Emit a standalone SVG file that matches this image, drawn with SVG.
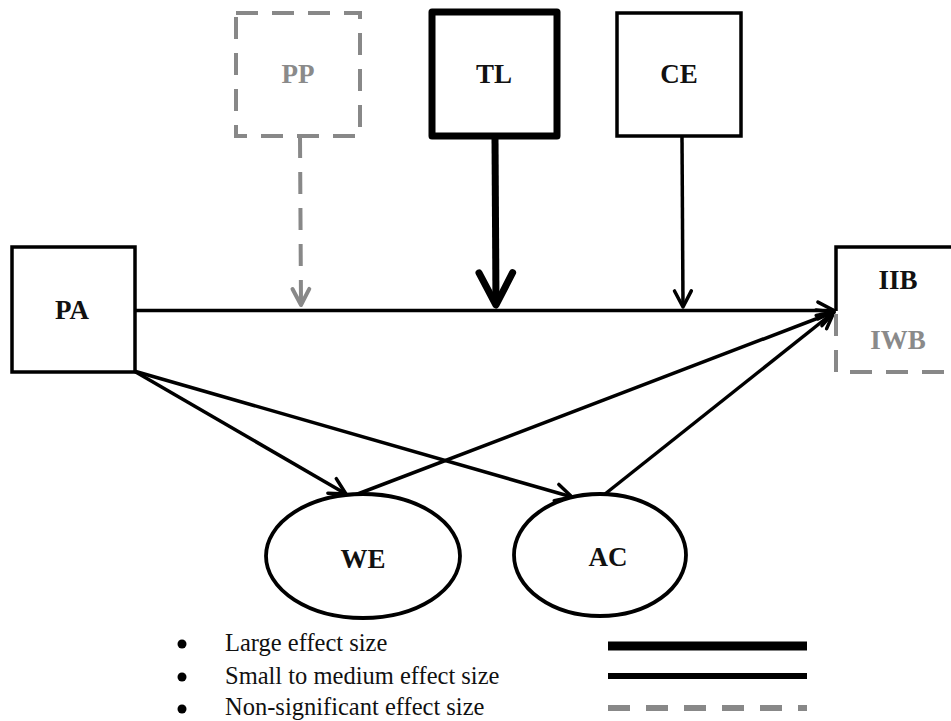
<svg xmlns="http://www.w3.org/2000/svg" width="951" height="721" viewBox="0 0 951 721">
<style>
.box{fill:#fff;stroke:#000;stroke-width:3.5}
.gbox{fill:none;stroke:#888;stroke-width:4;stroke-dasharray:22 14}
.lbl{font-family:"Liberation Serif","Times New Roman",serif;font-weight:bold;font-size:27px;text-anchor:middle;fill:#111}
.glbl{fill:#8a8a8a}
.leg{font-family:"Liberation Serif","Times New Roman",serif;font-size:24.5px;fill:#111}
.ln{fill:none;stroke:#000;stroke-width:3.5}
.gln{fill:none;stroke:#888;stroke-width:4;stroke-dasharray:22 14}
</style>
<defs>
<marker id="ah" viewBox="-6 -4 7 8" markerWidth="7" markerHeight="8" refX="0" refY="0" orient="auto" markerUnits="strokeWidth" overflow="visible">
<path d="M-4.6,-2.4 L0,0 L-4.6,2.4" fill="none" stroke="#000" stroke-width="1" stroke-linecap="round" stroke-linejoin="round"/>
</marker>
<marker id="gah" viewBox="-6 -4 7 8" markerWidth="7" markerHeight="8" refX="0" refY="0" orient="auto" markerUnits="strokeWidth" overflow="visible">
<path d="M-4,-2.1 L0,0 L-4,2.1" fill="none" stroke="#888" stroke-width="1" stroke-linecap="round" stroke-linejoin="round"/>
</marker>
</defs>
<rect width="951" height="721" fill="#fff"/>

<g id="connectors">
<line class="gln" x1="300" y1="136" x2="301" y2="305" marker-end="url(#gah)"/>
<line x1="495" y1="138" x2="496" y2="305" stroke="#000" stroke-width="7" marker-end="url(#ah)"/>
<line class="ln" x1="682" y1="137" x2="683" y2="307" marker-end="url(#ah)"/>
<line class="ln" x1="135" y1="310.5" x2="834" y2="310.5" marker-end="url(#ah)"/>
<line class="ln" x1="134" y1="371" x2="346" y2="494" marker-end="url(#ah)"/>
<line class="ln" x1="134" y1="371" x2="572" y2="497" marker-end="url(#ah)"/>
<line class="ln" x1="355" y1="495" x2="834" y2="312" marker-end="url(#ah)"/>
<line class="ln" x1="605" y1="494" x2="834" y2="312" marker-end="url(#ah)"/>
</g>

<g id="PP">
<rect class="gbox" x="236" y="13" width="124" height="123"/>
<text class="lbl glbl" x="298" y="83">PP</text>
</g>
<g id="TL">
<rect x="432" y="12" width="125" height="124" fill="#fff" stroke="#000" stroke-width="7" stroke-linejoin="round"/>
<text class="lbl" x="494" y="83">TL</text>
</g>
<g id="CE">
<rect class="box" x="617" y="13" width="124" height="123"/>
<text class="lbl" x="679" y="83">CE</text>
</g>
<g id="PA">
<rect class="box" x="12" y="247" width="123" height="125"/>
<text class="lbl" x="72" y="319">PA</text>
</g>
<g id="IIB">
<path class="ln" d="M955,247 H836 V311"/>
<text class="lbl" x="898" y="289">IIB</text>
</g>
<g id="IWB">
<path class="gln" d="M836,314 V372 H955"/>
<text class="lbl glbl" x="898" y="349">IWB</text>
</g>
<g id="WE">
<ellipse cx="363" cy="556" rx="97" ry="62" fill="#fff" stroke="#000" stroke-width="3.8"/>
<text class="lbl" x="363" y="568">WE</text>
</g>
<g id="AC">
<ellipse cx="600" cy="555" rx="86" ry="61" fill="#fff" stroke="#000" stroke-width="3.8"/>
<text class="lbl" x="608" y="566">AC</text>
</g>

<g id="legend">
<circle cx="182" cy="644" r="4.5" fill="#000"/>
<circle cx="182" cy="677" r="4.5" fill="#000"/>
<circle cx="182" cy="709" r="4.5" fill="#000"/>
<text class="leg" x="225" y="651">Large effect size</text>
<text class="leg" x="225" y="684">Small to medium effect size</text>
<text class="leg" x="225" y="715">Non-significant effect size</text>
<line x1="608" y1="646" x2="807" y2="646" stroke="#000" stroke-width="9"/>
<line x1="608" y1="676" x2="807" y2="676" stroke="#000" stroke-width="6"/>
<line x1="608" y1="708" x2="807" y2="708" stroke="#888" stroke-width="6" stroke-dasharray="22 16"/>
</g>
</svg>
